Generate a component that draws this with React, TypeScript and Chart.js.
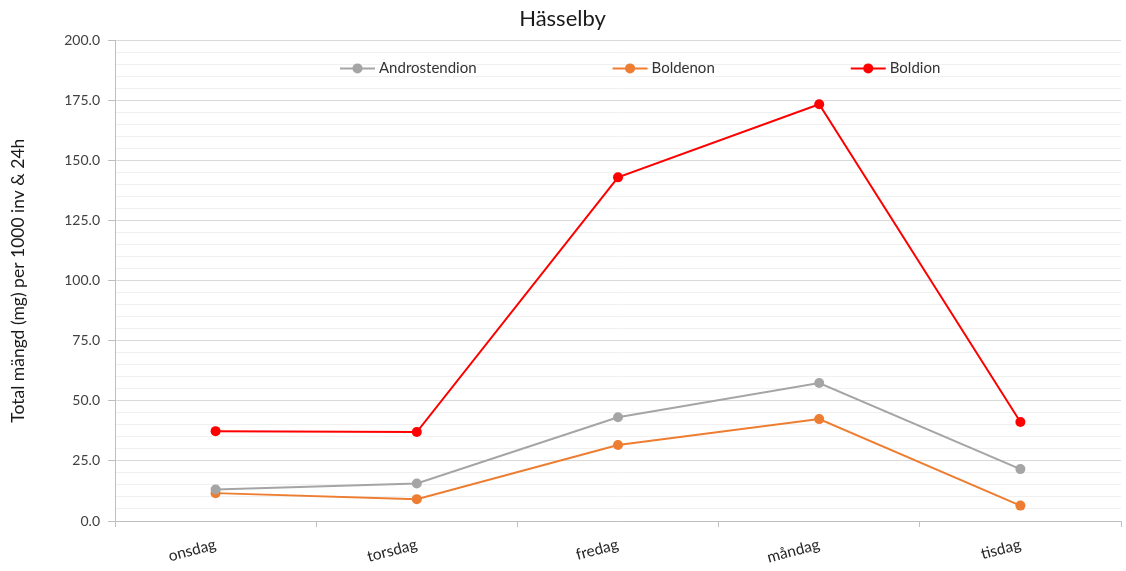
import React, { useEffect, useRef } from 'react';
import { Chart, registerables } from 'chart.js';

Chart.register(...registerables);

const categories = ['onsdag', 'torsdag', 'fredag', 'måndag', 'tisdag'];
const androstendion = [13.1, 15.6, 43.2, 57.4, 21.6];
const boldenon = [11.6, 9.1, 31.6, 42.4, 6.4];
const boldion = [37.4, 37.0, 143.0, 173.4, 41.2];
const seriesNames = ['Androstendion', 'Boldenon', 'Boldion'];
const seriesColors = ['#a5a5a5', '#ed7d31', '#ff0000'];
const chartTitle = 'Hässelby';
const yTitle = 'Total mängd (mg) per 1000 inv & 24h';
const yMin = 0;
const yMax = 200;
const yMajorStep = 25;
const yMinorStep = 5;

const FONT = 'Lato';

const customLegend = {
  id: 'customLegend',
  afterDraw(chart: any) {
    const ctx = chart.ctx;
    const area = chart.chartArea;
    const y = area.top + 28;
    let x = area.left + 225;
    const gap = 136;
    ctx.save();
    ctx.font = `15px ${FONT}`;
    ctx.textBaseline = 'middle';
    ctx.textAlign = 'left';
    chart.data.datasets.forEach((ds: any) => {
      ctx.strokeStyle = ds.borderColor;
      ctx.lineWidth = 2;
      ctx.beginPath();
      ctx.moveTo(x, y);
      ctx.lineTo(x + 35, y);
      ctx.stroke();
      ctx.fillStyle = ds.borderColor;
      ctx.beginPath();
      ctx.arc(x + 17.5, y, 5, 0, Math.PI * 2);
      ctx.fill();
      ctx.fillStyle = '#333333';
      ctx.fillText(ds.label, x + 39, y);
      const w = ctx.measureText(ds.label).width;
      x = x + 39 + w + gap;
    });
    ctx.restore();
  },
};

export default function App() {
  const ref = useRef<HTMLCanvasElement | null>(null);

  useEffect(() => {
    document.body.style.margin = '0';
    const canvas = ref.current;
    if (!canvas) return;
    const values = [androstendion, boldenon, boldion];
    const chart = new Chart(canvas, {
      type: 'line',
      data: {
        labels: categories,
        datasets: values.map((v, i) => ({
          label: seriesNames[i],
          data: v,
          borderColor: seriesColors[i],
          backgroundColor: seriesColors[i],
          pointBackgroundColor: seriesColors[i],
          pointBorderColor: seriesColors[i],
          pointRadius: 5,
          pointBorderWidth: 0,
          borderWidth: 2,
          tension: 0,
          fill: false,
        })),
      },
      options: {
        animation: false,
        responsive: true,
        maintainAspectRatio: false,
        layout: { padding: { left: 0, right: 1, top: 0, bottom: 0 } },
        plugins: {
          legend: { display: false },
          tooltip: { enabled: false },
          title: {
            display: true,
            text: chartTitle,
            color: '#1a1a1a',
            font: { family: FONT, size: 22, weight: 'normal' },
            padding: { top: 6, bottom: 8 },
          },
        },
        scales: {
          x: {
            offset: true,
            grid: {
              offset: true,
              drawOnChartArea: false,
              drawTicks: true,
              tickLength: 6,
              color: '#bfbfbf',
            },
            border: { display: true, color: '#bfbfbf', width: 1 },
            ticks: {
              minRotation: 15,
              maxRotation: 15,
              padding: 8,
              color: '#262626',
              font: { family: FONT, size: 15.5 },
            },
            afterFit: (s: any) => {
              s.height = 50;
            },
          },
          y: {
            min: yMin,
            max: yMax,
            grid: {
              color: (c: any) =>
                c.tick && c.tick.value % yMajorStep === 0 ? '#d9d9d9' : '#f0f0f0',
              tickColor: (c: any) =>
                c.tick && c.tick.value % yMajorStep === 0 ? '#bfbfbf' : 'rgba(0,0,0,0)',
              tickLength: 7,
              lineWidth: 1,
            },
            border: { display: true, color: '#bfbfbf', width: 1 },
            ticks: {
              stepSize: yMinorStep,
              autoSkip: false,
              padding: 8,
              color: '#404040',
              font: { family: FONT, size: 14 },
              callback: (v: any) => (Number(v) % yMajorStep === 0 ? Number(v).toFixed(1) : ''),
            },
            title: {
              display: true,
              text: yTitle,
              color: '#1a1a1a',
              font: { family: FONT, size: 17.5 },
              padding: { top: 8, bottom: 8 },
            },
            afterFit: (s: any) => {
              s.width = 115;
            },
          },
        },
      },
      plugins: [customLegend],
    });
    return () => chart.destroy();
  }, []);

  return (
    <div style={{ width: 1126, height: 571, position: 'relative', background: '#fff' }}>
      <canvas ref={ref} />
    </div>
  );
}
